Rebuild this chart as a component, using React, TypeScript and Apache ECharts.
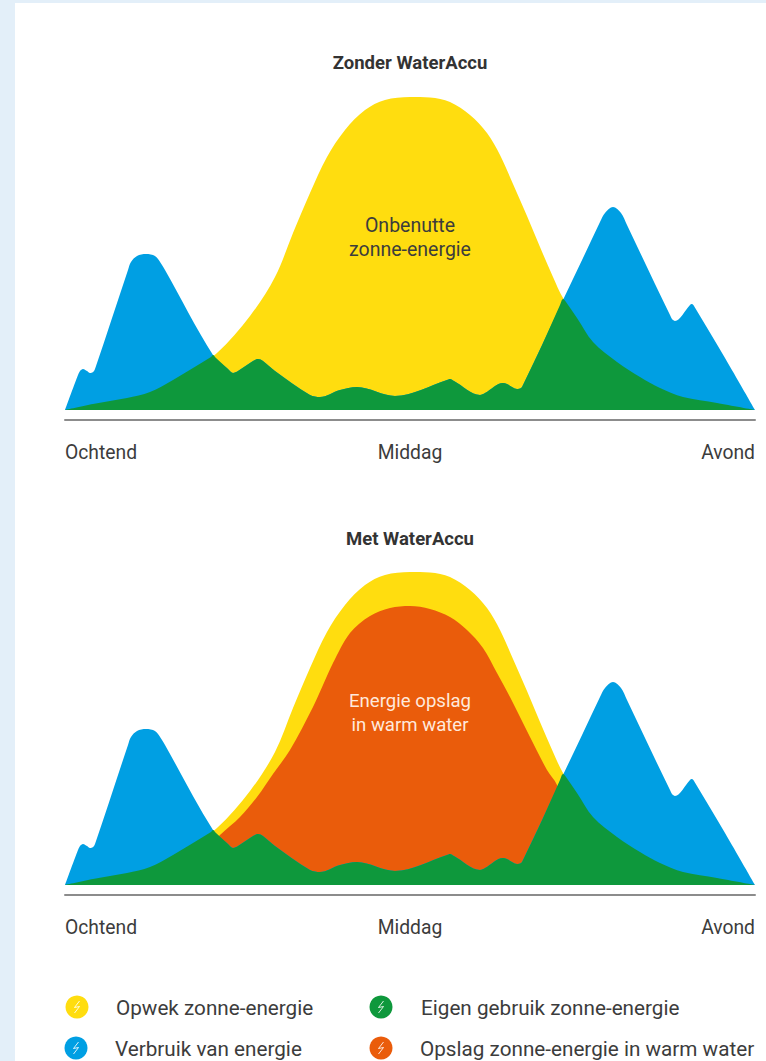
import React, { useEffect, useRef } from "react";
import * as echarts from "echarts";

// Daily energy profile: [position along the day, level above the baseline]
const solar = [
  [0, 0], [28, 6], [62, 12], [85, 18], [108, 30], [128, 42], [152, 57], [185, 94], [210, 133], [228, 177], [245, 217], [262, 253],
  [280, 280], [300, 300], [320, 310], [345, 313], [365, 312.5], [385, 308], [405, 295], [422, 277], [435, 255], [448, 226], [462, 194],
  [475, 163], [488, 133], [498, 112], [512, 92], [528, 68], [552, 48], [575, 33], [595, 22], [618, 13], [652, 7], [690, 0],
];
const consumption = [
  [0, 0], [13, 35], [15, 39], [18, 41], [22, 39], [25, 37], [28, 38], [30, 41], [63, 140], [66, 148], [72, 154], [81, 156], [90, 154],
  [97, 145], [100, 140], [148, 55], [163, 41], [168, 37], [173, 39], [188, 49], [193, 51], [198, 49], [210, 39], [245, 15], [255, 13],
  [275, 20], [292, 23], [330, 14], [382, 30], [385, 31], [389, 29], [415, 15], [420, 17], [438, 27], [442, 26], [452, 21], [456, 22], [458, 25],
  [478, 67], [498, 110], [518, 152], [535, 188], [540, 197], [548, 203], [556, 197], [562, 185], [590, 126], [605, 95], [607, 91],
  [610, 89], [625, 105], [627, 106], [629, 104], [660, 52], [690, 0],
];
const selfUse = [
  [0, 0], [28, 6], [62, 12], [85, 18], [108, 30], [128, 42], [146, 53], [148, 55], [151, 52],
  [163, 41], [168, 37], [173, 39], [188, 49], [193, 51], [198, 49], [210, 39], [245, 15], [255, 13],
  [275, 20], [292, 23], [330, 14], [382, 30], [385, 31], [389, 29], [415, 15], [420, 17], [438, 27], [442, 26], [452, 21], [456, 22], [458, 25],
  [478, 67], [495, 105], [498, 111], [501, 108], [512, 92], [528, 68], [552, 48], [575, 33], [595, 22], [618, 13], [652, 7], [690, 0],
];
const storage = [
  [135, 30], [155, 50], [175, 68], [192, 88], [208, 111], [225, 135], [248, 178], [258, 200], [268, 222], [285, 252], [305, 269], [325, 277], [345, 279],
  [365, 276], [385, 268], [402, 255], [418, 237], [432, 212], [445, 188], [465, 148], [482, 115], [492, 100], [505, 60],
];

const dayTicks = ["Ochtend", "Middag", "Avond"];
const panelTitles = ["Zonder WaterAccu", "Met WaterAccu"];
const panelNotes = [["Onbenutte", "zonne-energie"], ["Energie opslag", "in warm water"]];
const legendNames = ["Opwek zonne-energie", "Verbruik van energie", "Eigen gebruik zonne-energie", "Opslag zonne-energie in warm water"];

const YELLOW = "#ffdd0f";
const BLUE = "#009fe3";
const GREEN = "#0e983c";
const ORANGE = "#ea5c0b";
const TEXT = "#3c3c3c";
const FONT = "Roboto";
const CURVE = 0.33;

const areaSeries = (name: string, data: number[][], color: string, panel: number) => ({
  name,
  type: "line",
  xAxisIndex: panel,
  yAxisIndex: panel,
  data,
  smooth: CURVE,
  showSymbol: false,
  silent: true,
  lineStyle: { width: 0 },
  itemStyle: { color },
  areaStyle: { color, opacity: 1 },
});

const panelSeries = (panel: number) => [
  areaSeries(legendNames[0], solar, YELLOW, panel),
  ...(panel === 1 ? [areaSeries(legendNames[3], storage, ORANGE, panel)] : []),
  areaSeries(legendNames[1], consumption, BLUE, panel),
  areaSeries(legendNames[2], selfUse, GREEN, panel),
];

const legendKey = (cx: number, cy: number, color: string, label: string, textX: number) => [
  { type: "circle", shape: { cx, cy, r: 11.5 }, style: { fill: color } },
  {
    type: "polyline",
    shape: { points: [[cx + 2.5, cy - 6], [cx - 2.5, cy + 0.5], [cx + 2.5, cy - 0.5], [cx - 2.5, cy + 6]] },
    style: { stroke: "rgba(255,255,255,0.85)", lineWidth: 1, fill: "none" },
  },
  {
    type: "text",
    x: textX,
    y: cy + 1,
    style: { text: label, fontFamily: FONT, fontSize: 20.7, fill: TEXT, verticalAlign: "middle", align: "left" },
  },
];

// Captions sit above the filled areas, hence the raised z
const note = (lines: string[], y: number, fill: string, fontSize: number) =>
  lines.map((line, i) => ({
    type: "text",
    x: 410,
    y: y + i * 24,
    z: 20,
    style: { text: line, fontFamily: FONT, fontSize, fill, align: "center", verticalAlign: "middle" },
  }));

export default function App() {
  const ref = useRef<HTMLDivElement>(null);

  useEffect(() => {
    const chart = echarts.init(ref.current!, null, { renderer: "svg" });
    const xAxis = (gridIndex: number) => ({
      type: "value",
      gridIndex,
      min: 0,
      max: 690,
      interval: 345,
      offset: 10,
      splitLine: { show: false },
      axisTick: { show: false },
      axisLine: { show: true, onZero: false, lineStyle: { color: "#8c8c8c", width: 2 } },
      axisLabel: {
        margin: 23,
        fontFamily: FONT,
        fontSize: 19.3,
        color: TEXT,
        alignMinLabel: "left",
        alignMaxLabel: "right",
        formatter: (v: number) => dayTicks[Math.round(v / 345)],
      },
    });
    const yAxis = (gridIndex: number) => ({ type: "value", gridIndex, min: 0, max: 320, show: false });

    chart.setOption({
      animation: false,
      backgroundColor: "transparent",
      title: panelTitles.map((text, i) => ({
        text,
        left: 405,
        top: i === 0 ? 48 : 524,
        textAlign: "center",
        textStyle: { fontFamily: FONT, fontSize: 18.5, fontWeight: "bold", color: "#333333" },
      })),
      grid: [
        { left: 65, top: 90, width: 690, height: 320 },
        { left: 65, top: 565, width: 690, height: 320 },
      ],
      xAxis: [xAxis(0), xAxis(1)],
      yAxis: [yAxis(0), yAxis(1)],
      series: [...panelSeries(0), ...panelSeries(1)],
      graphic: [
        ...note(panelNotes[0], 225, TEXT, 19.5),
        ...note(panelNotes[1], 701, "#ffe9dc", 18.6),
        ...legendKey(77, 1007, YELLOW, legendNames[0], 116),
        ...legendKey(76, 1048, BLUE, legendNames[1], 115),
        ...legendKey(381, 1007, GREEN, legendNames[2], 421),
        ...legendKey(381, 1048, ORANGE, legendNames[3], 420),
      ],
    });
    return () => chart.dispose();
  }, []);

  return (
    <div style={{ position: "absolute", left: 0, top: 0, width: 766, height: 1061, background: "#e3eff9", overflow: "hidden" }}>
      <div style={{ position: "absolute", left: 15, top: 3, width: 751, height: 1058, background: "#ffffff" }} />
      <div ref={ref} style={{ position: "absolute", left: 0, top: 0, width: 766, height: 1061 }} />
    </div>
  );
}
